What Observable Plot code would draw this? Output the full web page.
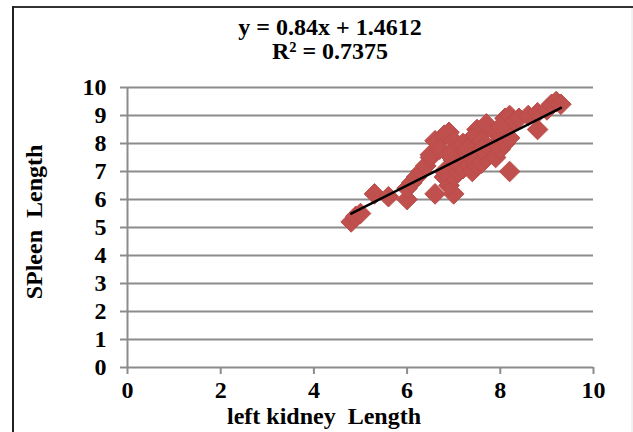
<!DOCTYPE html>
<html>
<head>
<meta charset="utf-8">
<script src="https://cdn.jsdelivr.net/npm/d3@7"></script>
<script src="https://cdn.jsdelivr.net/npm/@observablehq/plot@0.6"></script>
<style>
  html, body { margin: 0; padding: 0; background: #fff; }
  #chart { width: 633px; height: 432px; overflow: hidden; }
  #chart svg text { font-family: "Liberation Serif", "Times New Roman", Times, serif !important; font-weight: bold; }
</style>
</head>
<body>
<div id="chart"></div>
<script>
// left kidney length (x) vs spleen length (y)
const kidney = [4.8,4.9,5.0,5.3,5.6,6.0,6.0,6.1,6.2,6.3,6.4,6.5,6.5,6.6,6.8,6.9,6.7,7.0,7.1,6.6,7.0,6.9,6.8,7.0,6.8,7.1,7.2,7.3,7.4,7.4,7.5,7.6,7.7,7.8,7.9,8.0,8.1,8.0,7.9,7.7,7.5,7.4,7.2,7.3,7.6,7.7,8.1,8.2,8.2,8.3,8.4,8.2,8.2,8.6,8.8,8.8,9.0,9.1,9.2,9.3,7.0,6.9,7.6,8.0];
const spleen = [5.2,5.4,5.5,6.2,6.1,6.0,6.4,6.6,6.8,7.0,7.2,7.5,7.6,8.1,8.3,8.4,7.8,8.1,7.8,6.2,6.2,6.5,6.8,6.8,7.0,7.0,7.1,7.3,7.5,7.0,7.2,7.3,7.5,7.8,7.5,7.8,8.0,8.3,8.4,8.5,8.5,8.2,8.0,7.8,8.1,8.7,8.9,8.6,9.0,8.8,8.9,8.2,7.0,9.0,8.5,9.1,9.2,9.4,9.5,9.4,7.4,7.6,7.8,8.6];
const slope = 0.84, intercept = 1.4612;
const titleLines = ["y = 0.84x + 1.4612", "R² = 0.7375"];
const xLabel = "left kidney  Length";
const yLabel = "SPleen  Length";
const xTicks = [0, 2, 4, 6, 8, 10];
const yTicks = [0, 1, 2, 3, 4, 5, 6, 7, 8, 9, 10];

const points = kidney.map((k, i) => ({x: k, y: spleen[i]}));
const xmin = d3.min(kidney), xmax = d3.max(kidney);
const trend = [xmin, xmax].map(x => ({x, y: slope * x + intercept}));

const FONT = "Liberation Serif";

const plot = Plot.plot({
  width: 633,
  height: 432,
  marginLeft: 127,
  marginRight: 40,
  marginTop: 87,
  marginBottom: 65,
  style: {fontFamily: FONT, fontWeight: "bold", fontSize: "24px", background: "transparent", color: "#000"},
  x: {domain: [0, 10]},
  y: {domain: [0, 10]},
  marks: [
    Plot.ruleY(yTicks, {x1: 0, x2: 10, stroke: "#8c8c8c", strokeWidth: 2}),
    Plot.axisY({ticks: yTicks, tickSize: 7, tickPadding: 14, stroke: "#8c8c8c", strokeWidth: 2, strokeOpacity: 1, label: null, fontWeight: "bold"}),
    Plot.axisX({ticks: xTicks, tickSize: 7, tickPadding: 6, stroke: "#8c8c8c", strokeWidth: 2, strokeOpacity: 1, label: null, fontWeight: "bold"}),
    Plot.ruleX([0], {y1: 0, y2: 10, stroke: "#8c8c8c", strokeWidth: 2}),
    Plot.dot(points, {x: "x", y: "y", symbol: "diamond2", r: 9.3, fill: "#C0504D", stroke: "#BA4C49", strokeWidth: 1}),
    Plot.line(trend, {x: "x", y: "y", stroke: "#000", strokeWidth: 2.5})
  ]
});

const svg = d3.select(plot);
// chart border
const border = svg.insert("g", ":first-child");
border.append("rect").attr("x", 0).attr("y", 0).attr("width", 633).attr("height", 432).attr("fill", "#fff");
border.append("line").attr("x1", 13).attr("x2", 633).attr("y1", 7).attr("y2", 7).attr("stroke", "#333").attr("stroke-width", 2);
border.append("line").attr("x1", 13).attr("x2", 13).attr("y1", 6).attr("y2", 432).attr("stroke", "#222").attr("stroke-width", 2);
border.append("line").attr("x1", 632).attr("x2", 632).attr("y1", 8).attr("y2", 432).attr("stroke", "#e4e4e4").attr("stroke-width", 1);

const g = svg.append("g").attr("font-family", FONT).attr("font-weight", "bold").attr("font-size", 24).attr("fill", "#000");
g.append("text").attr("x", 330).attr("y", 35).attr("text-anchor", "middle").text(titleLines[0]);
g.append("text").attr("x", 330).attr("y", 59).attr("text-anchor", "middle").text(titleLines[1]);
g.append("text").attr("x", 324).attr("y", 424).attr("text-anchor", "middle").style("white-space", "pre").text(xLabel);
g.append("text").attr("transform", "translate(42,222) rotate(-90)").attr("text-anchor", "middle").style("white-space", "pre").text(yLabel);

document.getElementById("chart").appendChild(plot);
</script>
</body>
</html>
